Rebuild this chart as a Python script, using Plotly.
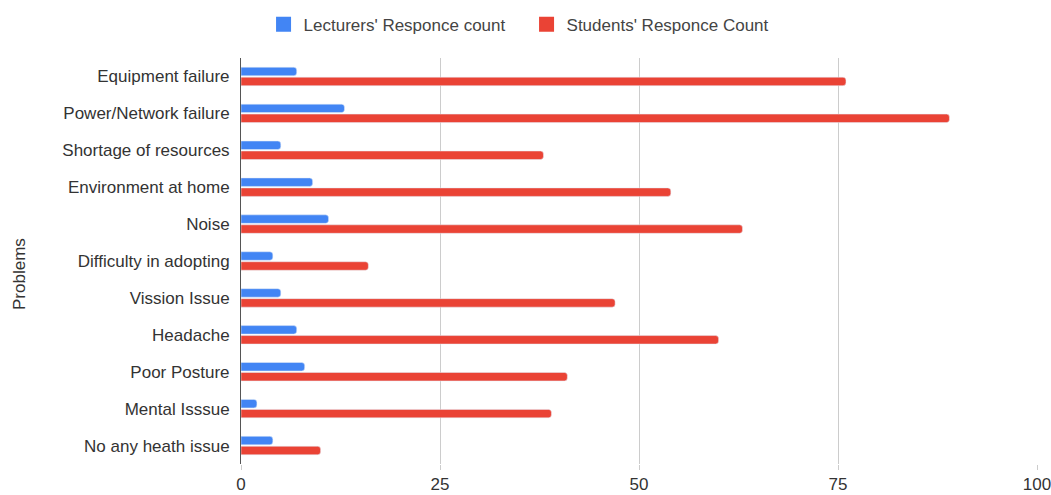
import plotly.graph_objects as go

problems = [
    "Equipment failure",
    "Power/Network failure",
    "Shortage of resources",
    "Environment at home",
    "Noise",
    "Difficulty in adopting",
    "Vission Issue",
    "Headache",
    "Poor Posture",
    "Mental Isssue",
    "No any heath issue",
]
lecturers = [7, 13, 5, 9, 11, 4, 5, 7, 8, 2, 4]
students = [76, 89, 38, 54, 63, 16, 47, 60, 41, 39, 10]
x_ticks = [0, 25, 50, 75, 100]
series_names = ["Lecturers' Responce count", "Students' Responce Count"]
series_colors = ["#4285F4", "#EA4335"]

FONT = "Liberation Sans, Arial, sans-serif"
TEXT = "#333333"

fig = go.Figure()
for vals, name, col in zip([lecturers, students], series_names, series_colors):
    fig.add_trace(go.Bar(
        y=problems, x=vals, orientation="h",
        name=name, marker_color=col, showlegend=False,
    ))
# legend swatches (square markers like the reference)
for name, col in zip(series_names, series_colors):
    fig.add_trace(go.Scatter(
        x=[None], y=[None], mode="markers", name=name,
        marker=dict(symbol="square", size=15, color=col),
        showlegend=True,
    ))

fig.update_layout(
    width=1051, height=495,
    margin=dict(l=241, r=14, t=58, b=31),
    paper_bgcolor="white", plot_bgcolor="white",
    barmode="group", bargap=0.46, bargroupgap=0.15,
    barcornerradius=3,
    font=dict(family=FONT, size=17, color=TEXT),
    showlegend=True,
    legend=dict(
        orientation="h", xref="container", yref="container",
        x=0.501, xanchor="center", y=0.95, yanchor="middle",
        font=dict(family=FONT, size=17, color="#444444"),
        itemwidth=30, tracegroupgap=0,
        entrywidth=218, entrywidthmode="pixels",
    ),
)
fig.update_xaxes(
    range=[0, 100], tickvals=x_ticks, ticktext=[str(v) for v in x_ticks],
    showgrid=True, gridcolor="#CCCCCC", gridwidth=1,
    zeroline=False, showline=False,
    ticks="outside", ticklen=5, tickcolor="#CCCCCC",
    ticklabelstandoff=0, ticklabeloverflow="allow",
    automargin=False,
    tickfont=dict(family=FONT, size=17, color=TEXT),
)
fig.update_yaxes(
    autorange="reversed", categoryorder="array", categoryarray=problems,
    showgrid=False, showline=True, linecolor="#555555", linewidth=1,
    ticks="", ticklabelstandoff=7, automargin=False,
    tickfont=dict(family=FONT, size=17, color=TEXT),
)
fig.add_annotation(
    text="Problems", textangle=-90, xref="paper", yref="paper",
    x=(19 - 241) / 796, y=(464 - 274) / 406, showarrow=False,
    font=dict(family=FONT, size=17, color=TEXT),
    xanchor="center", yanchor="middle",
)

fig.write_html("out.html")
